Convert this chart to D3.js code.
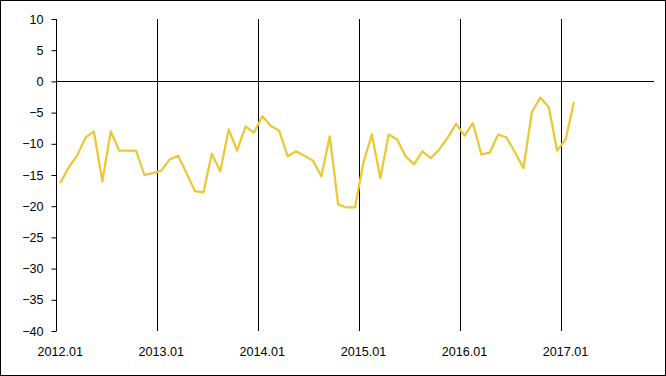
<!DOCTYPE html>
<html lang="en">
<head>
    <meta charset="UTF-8">
    <title>Monthly index 2012-2017</title>
    <script src="https://d3js.org/d3.v7.min.js"></script>
    <style>
        body {
            margin: 0;
            padding: 0;
            background: #fff;
        }
        svg text {
            font-family: "Liberation Sans", Arial, sans-serif;
            font-size: 12.6px;
            fill: #000;
        }
    </style>
</head>
<body>
    <svg id="chart" width="666" height="376"></svg>

    <script>
        const width = 666;
        const height = 376;

        // Month categories on the x axis (2012.01 .. 2017.11)
        const years = [2012, 2013, 2014, 2015, 2016, 2017];
        const months = [];
        years.forEach(y => {
            for (let m = 1; m <= 12; m++) {
                if (y === 2017 && m > 11) break;
                months.push(y + '.' + String(m).padStart(2, '0'));
            }
        });

        const tickLabels = ['2012.01', '2013.01', '2014.01', '2015.01', '2016.01', '2017.01'];
        const yTicks = [10, 5, 0, -5, -10, -15, -20, -25, -30, -35, -40];

        // Values, one per month from 2012.01 to 2017.02
        const values = [
            -16.3, -13.8, -11.9, -9.0, -8.0, -16.0, -8.0, -11.1, -11.1, -11.1, -15.0, -14.7,
            -14.3, -12.5, -11.9, -14.7, -17.6, -17.8, -11.6, -14.4, -7.7, -11.1, -7.2, -8.2,
            -5.6, -7.1, -7.9, -12.0, -11.2, -11.9, -12.7, -15.2, -8.8, -19.7, -20.2, -20.2,
            -13.0, -8.5, -15.5, -8.5, -9.3, -12.0, -13.3, -11.2, -12.3, -10.9, -9.0, -6.8,
            -8.7, -6.7, -11.7, -11.4, -8.5, -9.0, -11.4, -13.9, -4.9, -2.6, -4.1, -11.1,
            -9.3, -3.3
        ];

        const plot = { left: 56, right: 654, top: 19, bottom: 331 };

        const svg = d3.select('#chart');

        // Outer frame
        svg.append('rect')
            .attr('x', 0.5).attr('y', 0.5)
            .attr('width', width - 1).attr('height', height - 1)
            .attr('fill', '#fff')
            .attr('stroke', '#000');

        const x = d3.scaleBand()
            .domain(months)
            .range([plot.left, plot.right])
            .padding(0);

        const y = d3.scaleLinear()
            .domain([-40, 10])
            .range([plot.bottom, plot.top]);

        const cx = d => x(d) + x.bandwidth() / 2;

        // Vertical gridlines at the start of each year (after the first)
        svg.append('g')
            .selectAll('line')
            .data(tickLabels.slice(1))
            .enter()
            .append('line')
            .attr('x1', d => Math.round(x(d)) + 0.5)
            .attr('x2', d => Math.round(x(d)) + 0.5)
            .attr('y1', plot.top)
            .attr('y2', plot.bottom)
            .attr('stroke', '#000')
            .attr('stroke-width', 1);

        // Y axis
        const yAxis = d3.axisLeft(y)
            .tickValues(yTicks)
            .tickSize(5)
            .tickPadding(8)
            .tickFormat(d3.format('d'));

        const gy = svg.append('g')
            .attr('transform', 'translate(' + (plot.left + 0.5) + ',0)')
            .call(yAxis);
        gy.select('.domain').attr('stroke', '#000').attr('d', 'M0,' + plot.top + 'V' + plot.bottom);
        gy.selectAll('.tick line').attr('stroke', '#000');
        gy.selectAll('text')
            .style('font-family', '"Liberation Sans", Arial, sans-serif')
            .style('font-size', '12.6px')
            .attr('fill', '#000');

        // Category axis crosses at zero
        svg.append('line')
            .attr('x1', plot.left)
            .attr('x2', plot.right)
            .attr('y1', Math.round(y(0)) + 0.5)
            .attr('y2', Math.round(y(0)) + 0.5)
            .attr('stroke', '#000');

        // Category labels at the bottom
        svg.append('g')
            .selectAll('text')
            .data(tickLabels)
            .enter()
            .append('text')
            .attr('x', d => cx(d))
            .attr('y', 356)
            .attr('text-anchor', 'middle')
            .text(d => d);

        // Series line
        const line = d3.line()
            .x((d, i) => cx(months[i]))
            .y(d => y(d));

        svg.append('path')
            .datum(values)
            .attr('d', line)
            .attr('fill', 'none')
            .attr('stroke', '#EBC934')
            .attr('stroke-width', 2.25)
            .attr('stroke-linejoin', 'round');
    </script>
</body>
</html>
